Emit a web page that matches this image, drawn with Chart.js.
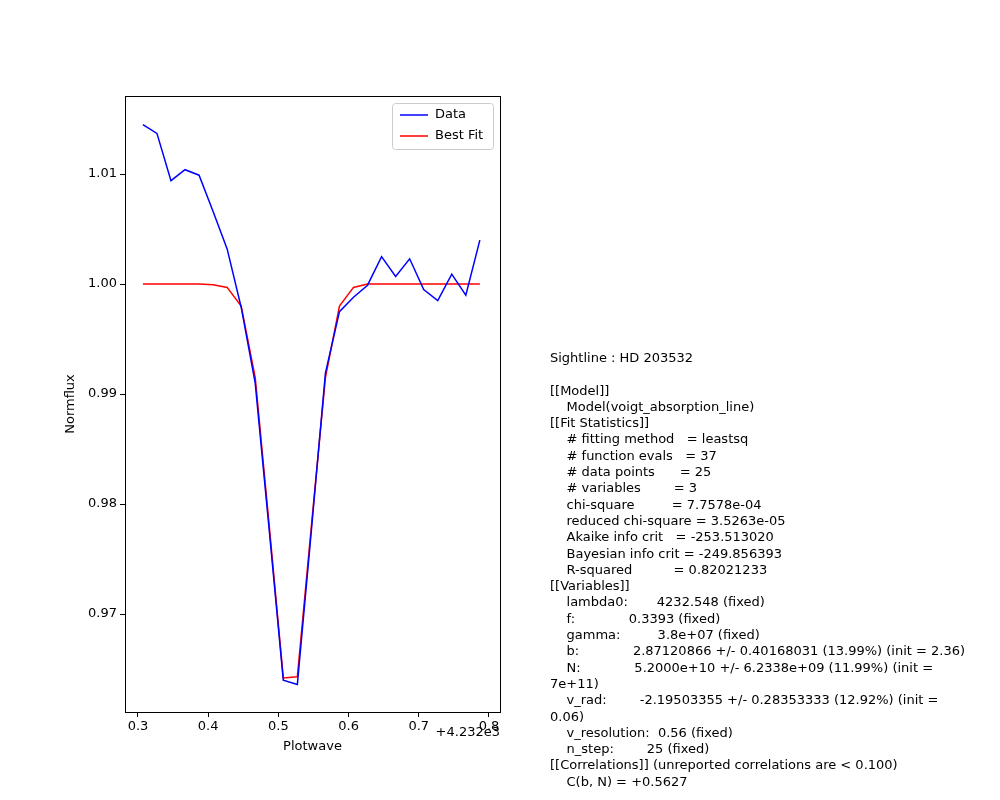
<!DOCTYPE html>
<html>
<head>
<meta charset="utf-8">
<script src="https://cdn.jsdelivr.net/npm/chart.js@4"></script>
<style>
  body { margin: 0; background: #fff; }
  #wrap { position: relative; width: 1000px; height: 800px; }
  #report { position: absolute; left: 550px; top: 350px; font: 13px "DejaVu Sans"; line-height: 16.3px; white-space: pre; color: #000; }
</style>
</head>
<body>
<div id="wrap">
<canvas id="fitChart" width="1000" height="800"></canvas>
<div id="report">Sightline : HD 203532

[[Model]]
    Model(voigt_absorption_line)
[[Fit Statistics]]
    # fitting method   = leastsq
    # function evals   = 37
    # data points      = 25
    # variables        = 3
    chi-square         = 7.7578e-04
    reduced chi-square = 3.5263e-05
    Akaike info crit   = -253.513020
    Bayesian info crit = -249.856393
    R-squared          = 0.82021233
[[Variables]]
    lambda0:       4232.548 (fixed)
    f:             0.3393 (fixed)
    gamma:         3.8e+07 (fixed)
    b:             2.87120866 +/- 0.40168031 (13.99%) (init = 2.36)
    N:             5.2000e+10 +/- 6.2338e+09 (11.99%) (init =
7e+11)
    v_rad:        -2.19503355 +/- 0.28353333 (12.92%) (init =
0.06)
    v_resolution:  0.56 (fixed)
    n_step:        25 (fixed)
[[Correlations]] (unreported correlations are < 0.100)
    C(b, N) = +0.5627</div>
</div>
<script>
const waveOffset = [0.307, 0.327, 0.347, 0.367, 0.387, 0.407, 0.427, 0.447, 0.467, 0.487,
                    0.507, 0.527, 0.547, 0.567, 0.587, 0.607, 0.627, 0.647, 0.667, 0.687,
                    0.707, 0.727, 0.747, 0.767, 0.787];
const fluxData = [1.0145, 1.0137, 1.0094, 1.0104, 1.0099, 1.0066, 1.0032, 0.9979, 0.9910, 0.9776,
                  0.9640, 0.9636, 0.9776, 0.9919, 0.9975, 0.9988, 0.9999, 1.0025, 1.0007, 1.0023,
                  0.9995, 0.9985, 1.0009, 0.9990, 1.0040];
const fluxFit = [1.0000, 1.0000, 1.0000, 1.0000, 1.0000, 0.99995, 0.9997, 0.9980, 0.9915, 0.9780,
                 0.9642, 0.9643, 0.9780, 0.9915, 0.9980, 0.9997, 1.0000, 1.0000, 1.0000, 1.0000,
                 1.0000, 1.0000, 1.0000, 1.0000, 1.0000];
const xTicks = [0.3, 0.4, 0.5, 0.6, 0.7, 0.8];
const yTicks = [0.97, 0.98, 0.99, 1.00, 1.01];

const font = { family: "DejaVu Sans", size: 13 };
Chart.defaults.color = "#000";

function toPoints(ys) {
    return waveOffset.map((x, i) => ({ x: x, y: ys[i] }));
}

const extras = {
    id: "extras",
    afterDraw(chart) {
        const ctx = chart.ctx;
        const a = chart.chartArea;
        ctx.save();
        // frame
        ctx.strokeStyle = "#000";
        ctx.lineWidth = 1;
        ctx.strokeRect(Math.round(a.left) + 0.5, Math.round(a.top) + 0.5,
                       Math.round(a.right - a.left), Math.round(a.bottom - a.top));
        ctx.font = "13px 'DejaVu Sans'";
        ctx.fillStyle = "#000";
        ctx.textBaseline = "middle";
        ctx.textAlign = "right";
        ctx.fillText("+4.232e3", a.right, 733);
        ctx.textAlign = "center";
        ctx.fillText("Plotwave", (a.left + a.right) / 2, 747);
        ctx.save();
        ctx.translate(71, (a.top + a.bottom) / 2);
        ctx.rotate(-Math.PI / 2);
        ctx.fillText("Normflux", 0, 0);
        ctx.restore();
        // legend box
        const bx = a.right - 108, by = a.top + 7, bw = 101, bh = 46;
        ctx.fillStyle = "rgba(255,255,255,0.8)";
        ctx.strokeStyle = "#ccc";
        ctx.beginPath();
        ctx.roundRect(bx + 0.5, by + 0.5, bw, bh, 3);
        ctx.fill();
        ctx.stroke();
        const items = [["Data", "blue"], ["Best Fit", "red"]];
        items.forEach((it, i) => {
            const y = by + 12 + i * 21;
            ctx.strokeStyle = it[1];
            ctx.lineWidth = 1.5;
            ctx.beginPath();
            ctx.moveTo(bx + 8, y);
            ctx.lineTo(bx + 36, y);
            ctx.stroke();
            ctx.fillStyle = "#000";
            ctx.textAlign = "left";
            ctx.fillText(it[0], bx + 43, y);
        });
        ctx.restore();
    }
};

new Chart(document.getElementById("fitChart"), {
    type: "line",
    data: {
        datasets: [
            { label: "Data", data: toPoints(fluxData), borderColor: "blue", borderWidth: 1.5, pointRadius: 0, tension: 0 },
            { label: "Best Fit", data: toPoints(fluxFit), borderColor: "red", borderWidth: 1.5, pointRadius: 0, tension: 0 }
        ]
    },
    options: {
        responsive: false,
        animation: false,
        layout: { padding: { top: 96, right: 500, left: 0, bottom: 0 } },
        plugins: { legend: { display: false }, tooltip: { enabled: false } },
        scales: {
            x: {
                type: "linear", min: 0.2815, max: 0.8157,
                afterFit: s => { s.height = 88; },
                afterBuildTicks: s => { s.ticks = xTicks.map(v => ({ value: v })); },
                ticks: { font: font, callback: v => v.toFixed(1), maxRotation: 0, padding: 2 },
                grid: { drawOnChartArea: false, tickLength: 5, color: "#000" },
                border: { color: "#000" }
            },
            y: {
                type: "linear", min: 0.9611, max: 1.0171,
                afterFit: s => { s.width = 125; },
                afterBuildTicks: s => { s.ticks = yTicks.map(v => ({ value: v })); },
                ticks: { font: font, callback: v => v.toFixed(2) },
                grid: { drawOnChartArea: false, tickLength: 5, color: "#000" },
                border: { color: "#000" }
            }
        }
    },
    plugins: [extras]
});
</script>
</body>
</html>
